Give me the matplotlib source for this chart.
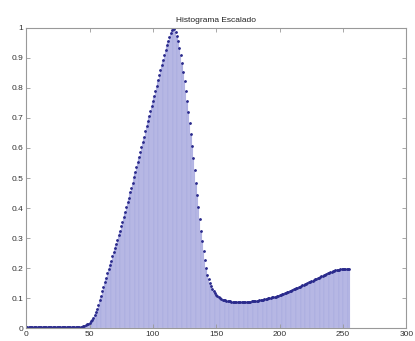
# Histograma escalado (estilo stem de MATLAB)
import numpy as np
import matplotlib
matplotlib.use("Agg")
import matplotlib.pyplot as plt

plt.rcParams['font.family'] = ['Liberation Sans', 'DejaVu Sans']

titulo = "Histograma Escalado"
xticks = [0, 50, 100, 150, 200, 250, 300]
yticks = [0, 0.1, 0.2, 0.3, 0.4, 0.5, 0.6, 0.7, 0.8, 0.9, 1]
ytick_labels = ["0", "0.1", "0.2", "0.3", "0.4", "0.5", "0.6", "0.7", "0.8", "0.9", "1"]

# valores, niveles 0..255
hist = [
    # 0 - 39
    0.003, 0.003, 0.003, 0.003, 0.003, 0.003, 0.003, 0.003, 0.003, 0.003,
    0.003, 0.003, 0.003, 0.003, 0.003, 0.003, 0.003, 0.003, 0.003, 0.003,
    0.003, 0.003, 0.003, 0.003, 0.003, 0.003, 0.003, 0.003, 0.003, 0.003,
    0.003, 0.003, 0.003, 0.003, 0.003, 0.003, 0.003, 0.003, 0.003, 0.003,
    # 40 - 79
    0.003, 0.003, 0.004, 0.004, 0.005, 0.006, 0.008, 0.010, 0.012, 0.015,
    0.018, 0.022, 0.027, 0.034, 0.042, 0.052, 0.064, 0.078, 0.093, 0.108,
    0.123, 0.138, 0.153, 0.168, 0.183, 0.197, 0.211, 0.225, 0.239, 0.253,
    0.267, 0.281, 0.295, 0.310, 0.325, 0.340, 0.355, 0.371, 0.387, 0.403,
    # 80 - 119
    0.419, 0.435, 0.452, 0.468, 0.485, 0.502, 0.519, 0.536, 0.553, 0.570,
    0.587, 0.604, 0.621, 0.638, 0.655, 0.672, 0.689, 0.706, 0.723, 0.740,
    0.757, 0.774, 0.791, 0.808, 0.825, 0.842, 0.859, 0.876, 0.893, 0.910,
    0.926, 0.942, 0.957, 0.971, 0.984, 0.994, 1.000, 0.997, 0.988, 0.974,
    # 120 - 159
    0.956, 0.934, 0.910, 0.883, 0.854, 0.823, 0.790, 0.756, 0.720, 0.683,
    0.645, 0.606, 0.566, 0.525, 0.484, 0.443, 0.403, 0.363, 0.325, 0.289,
    0.256, 0.226, 0.200, 0.178, 0.163, 0.150, 0.140, 0.130, 0.122, 0.116,
    0.111, 0.106, 0.102, 0.099, 0.097, 0.095, 0.093, 0.092, 0.091, 0.090,
    # 160 - 199
    0.089, 0.089, 0.088, 0.088, 0.088, 0.087, 0.087, 0.087, 0.087, 0.087,
    0.087, 0.087, 0.087, 0.087, 0.087, 0.088, 0.088, 0.088, 0.089, 0.089,
    0.090, 0.090, 0.091, 0.091, 0.092, 0.093, 0.094, 0.095, 0.096, 0.097,
    0.098, 0.099, 0.100, 0.101, 0.102, 0.103, 0.104, 0.105, 0.107, 0.108,
    # 200 - 239
    0.110, 0.111, 0.113, 0.115, 0.116, 0.118, 0.120, 0.121, 0.123, 0.125,
    0.127, 0.129, 0.131, 0.132, 0.134, 0.136, 0.138, 0.140, 0.142, 0.144,
    0.146, 0.148, 0.150, 0.152, 0.154, 0.156, 0.158, 0.160, 0.162, 0.164,
    0.166, 0.168, 0.170, 0.172, 0.174, 0.176, 0.178, 0.180, 0.182, 0.184,
    # 240 - 255
    0.186, 0.187, 0.189, 0.190, 0.192, 0.193, 0.194, 0.195, 0.196, 0.197,
    0.197, 0.198, 0.198, 0.198, 0.198, 0.197,
]
niveles = np.arange(len(hist))

fig = plt.figure(figsize=(4.15, 3.41), dpi=100)
ax = fig.add_axes([0.063, 0.038, 0.916, 0.880])

# tallos
ax.bar(niveles, hist, width=1.0, color='#aaace0', edgecolor='#d6d6f2', linewidth=0.15)
# puntos
ax.plot(niveles, hist, linestyle='none', marker='.', markersize=2.0, color='#2a2a8c')

ax.set_xlim(0, 300)
ax.set_ylim(0, 1)
ax.set_xticks(xticks)
ax.set_yticks(yticks)
ax.set_yticklabels(ytick_labels)
ax.tick_params(direction='in', length=3, width=0.6, top=True, right=True,
               labelsize=6, colors='#999999', labelcolor='#333333', pad=2)
for s in ax.spines.values():
    s.set_color('#999999')
    s.set_linewidth(0.8)

ax.set_title(titulo, fontsize=6, color='#222222', pad=4)

fig.savefig("out.png", dpi=100)
